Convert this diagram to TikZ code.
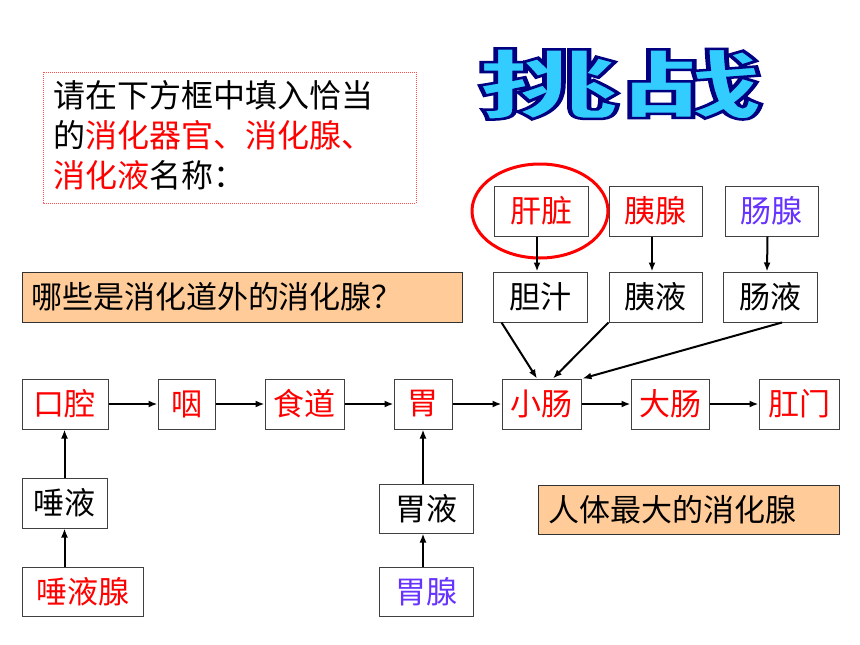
\documentclass[tikz,border=0pt]{standalone}
\usepackage{fontspec}
\setmainfont{Noto Sans CJK SC}
\usetikzlibrary{arrows.meta,shapes.geometric}
\definecolor{peach}{HTML}{FFCC99}
\definecolor{rd}{HTML}{FF0000}
\definecolor{pu}{HTML}{6633FF}
\definecolor{lblue}{HTML}{33CCFF}
\definecolor{navy}{HTML}{000080}
\newcommand{\outlinedtext}[1]{\special{pdf:literal direct 0 0 0.5 RG 2 Tr 2.5 w}#1\special{pdf:literal direct 0 Tr 1 w}}
\tikzset{
  box/.style={draw=black!75, line width=1pt, fill=white, inner sep=0pt, font=\fontsize{31}{36}\selectfont},
  hintbox/.style={draw=black!80, line width=1pt, fill=peach, inner xsep=9pt, inner ysep=0pt, align=left, font=\fontsize{31}{36}\selectfont},
  arr/.style={-{Latex[length=9pt,width=7pt]}, line width=2pt, black},
}
\begin{document}
\begin{tikzpicture}[x=1pt,y=-1pt]
\useasboundingbox[fill=white] (0,0) rectangle (860,645);

% instruction box
\draw[rd!70, line width=1pt, densely dotted] (43,72) rectangle (416,203);
\node[anchor=north west, inner sep=0pt, align=left, font=\fontsize{32}{40}\selectfont] (instr) at (53,80)
  {请在下方框中填入恰当\\的\textcolor{rd}{消化器官、消化腺、}\\\textcolor{rd}{消化液}名称：};

% title
\node[font=\fontsize{75}{75}\selectfont\bfseries, text=lblue, xscale=1.9, inner sep=0pt] (title) at (620,84) {\outlinedtext{挑战}};

% glands
\node[box, minimum width=94pt, minimum height=50pt, text=rd] (gan) at (541,211) {肝脏};
\node[box, minimum width=93pt, minimum height=50pt, text=rd] (yixian) at (655.5,211) {胰腺};
\node[box, minimum width=93pt, minimum height=50pt, text=pu] (changxian) at (771.5,211) {肠腺};
\node[draw=rd, line width=3pt, ellipse, minimum width=136pt, minimum height=94pt, inner sep=0pt] (circ) at (540,211) {};

% juices
\node[box, minimum width=94pt, minimum height=50pt] (danzhi) at (540,297) {胆汁};
\node[box, minimum width=93pt, minimum height=50pt] (yiye) at (655.5,297) {胰液};
\node[box, minimum width=94pt, minimum height=50pt] (changye) at (770,297) {肠液};

% question
\node[hintbox, text width=422pt, minimum height=50pt] (q) at (242,297) {哪些是消化道外的消化腺？};

% main tract
\node[box, minimum width=86pt, minimum height=50pt, text=rd] (kouqiang) at (65,404) {口腔};
\node[box, minimum width=57pt, minimum height=50pt, text=rd] (yan) at (186.5,404) {咽};
\node[box, minimum width=79pt, minimum height=50pt, text=rd] (shidao) at (304.5,404) {食道};
\node[box, minimum width=58pt, minimum height=50pt, text=rd] (wei) at (423,404) {胃};
\node[box, minimum width=79pt, minimum height=50pt, text=rd] (xiaochang) at (541.5,404) {小肠};
\node[box, minimum width=78pt, minimum height=50pt, text=rd] (dachang) at (670,404) {大肠};
\node[box, minimum width=80pt, minimum height=50pt, text=rd] (gangmen) at (799,404) {肛门};

% lower
\node[box, minimum width=85pt, minimum height=50pt] (tuoye) at (64.5,503) {唾液};
\node[box, minimum width=121pt, minimum height=49pt, text=rd] (tuoyexian) at (82.5,591.5) {唾液腺};
\node[box, minimum width=94pt, minimum height=49pt] (weiye) at (426,508.5) {胃液};
\node[box, minimum width=94pt, minimum height=49pt, text=pu] (weixian) at (426,591.5) {胃腺};

\node[hintbox, inner xsep=10pt, text width=281pt, minimum height=49pt] (biggest) at (688.5,509.5) {人体最大的消化腺};

% arrows main row
\draw[arr] (kouqiang) -- (yan);
\draw[arr] (yan) -- (shidao);
\draw[arr] (shidao) -- (wei);
\draw[arr] (wei) -- (xiaochang);
\draw[arr] (xiaochang) -- (dachang);
\draw[arr] (dachang) -- (gangmen);

% vertical arrows
\draw[arr] (tuoyexian.north -| tuoye.south) -- (tuoye.south);
\draw[arr] (tuoye.north) -- (tuoye.north |- kouqiang.south);
\draw[arr] (weixian.north -| wei.south) -- (weiye.south -| wei.south);
\draw[arr] (weiye.north -| wei.south) -- (wei.south);
\draw[arr] ([xshift=-3pt]gan.south -| danzhi.north) -- ([xshift=-3pt]danzhi.north);
\draw[arr] ([xshift=-3.5pt]yixian.south) -- ([xshift=-3.5pt]yiye.north);
\draw[arr] ([xshift=-4pt]changxian.south) -- ([xshift=-3pt]changye.north);

% diagonal arrows
\draw[arr] ([xshift=9pt]danzhi.south west) -- ([xshift=-4.5pt]xiaochang.north);
\draw[arr] (yiye.south west) -- ([xshift=11.5pt]xiaochang.north);
\draw[arr] ([xshift=12pt]changye.south) -- ([xshift=1pt]xiaochang.north east);
\end{tikzpicture}
\end{document}
